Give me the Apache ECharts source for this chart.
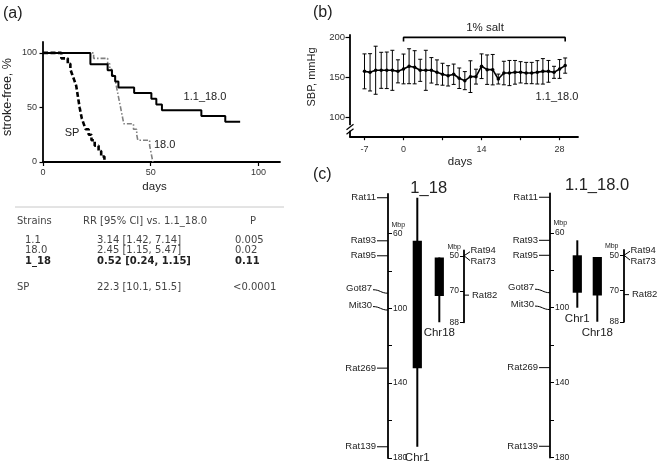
<!DOCTYPE html>
<html><head><meta charset="utf-8">
<script src="https://cdn.jsdelivr.net/npm/echarts@6/dist/echarts.min.js"></script>
<style>html,body{margin:0;padding:0;background:#fff}#c{width:660px;height:465px}</style>
</head><body><div id="c"></div>
<script>
// ================= DATA =================
// (a) Kaplan-Meier stroke-free survival: [day, % stroke-free after event]
const kmXTicks = [0, 50, 100];
const kmYTicks = [0, 50, 100];
const km_1_1_18_0 = [[0,100],[22,89.5],[30,84.2],[32,78.9],[33.5,73.7],[35,68.4],[42.3,63.2],[50.3,57.9],[52.6,52.6],[55.2,47.4],[73.5,42.1],[84.6,36.8],[91.5,36.8]];
const km_SP = [[0,100],[8.5,95],[11.5,90],[12.7,85],[13.6,80],[14.5,75],[15.4,70],[15.8,65],[16.2,60],[16.6,55],[17,50],[17.5,45],[18,40],[18.9,35],[19.8,30],[21.2,25],[22.5,20],[24,15],[25.8,10],[27,5],[28.5,0]];
const km_18_0 = [[0,100],[23.5,95],[30,90],[31,85],[32,80],[33.5,75],[34,70],[34.5,65],[35,60],[35.5,55],[36,50],[36.5,45],[37,40],[37.5,35],[42,30],[43.5,25],[44,20],[49.5,15],[50,10],[50.5,5],[51,0]];

// (a) table
const tableHeader = ['Strains', 'RR [95% CI] vs. 1.1_18.0', 'P'];
const tableStrains = ['1.1', '18.0', '1_18', 'SP'];
const tableRR = ['3.14 [1.42, 7.14]', '2.45 [1.15, 5.47]', '0.52 [0.24, 1.15]', '22.3 [10.1, 51.5]'];
const tableP = ['0.005', '0.02', '0.11', '<0.0001'];

// (b) SBP
const sbpDays = [-7,-6,-5,-4,-3,-2,-1,0,1,2,3,4,5,6,7,8,9,10,11,12,13,14,15,16,17,18,19,20,21,22,23,24,25,26,27,28,29];
const sbpMean = [157.6,156.4,159,158.9,158.9,158.9,157.6,160.6,164,162.7,158.9,158.9,158.9,156.4,154,152,154,149,146,151,151,164,159.7,159.7,148,155.5,155.5,156.4,156.4,155.5,155.5,156.4,157.6,157.6,156.4,160.6,164.8];
const sbpSD = [21.8,23.3,30,22.5,22.8,25,14.4,18.6,21.8,20.7,13.8,25,15.9,15.5,13.7,12.7,12.7,12.8,11.3,19.8,9.3,15.4,18.4,19,6.2,14.7,15.7,14.8,13.3,13.3,13.3,14.6,15.9,13.6,7.5,11.75,9.5];
const sbpXTicks = [-7, 0, 7, 14, 21, 28];
const sbpXLabels = [-7, 0, 14, 28];
const sbpYTicks = [100, 150, 200];
const saltBracket = [[0,195],[0,200],[29,200],[29,195]];

// (c) congenic maps (Mbp)
const chr1Markers = [['Rat11',41],['Rat93',64],['Rat95',72],['Got87',92],['Mit30',101],['Rat269',132],['Rat139',174]];
const chr18Markers = [['Rat94',50],['Rat73',50],['Rat82',72.5]];
const chr1TickValues = [60,80,100,120,140,160,180];
const chr1LabelValues = [60,100,140,180];
const chr18TickValues = [50,70,88];
// [thinStart, thinEnd, thickStart, thickEnd]
const seg_1_18_chr1 = [41,174,64,132];
const seg_1_18_chr18 = [51,88,51,73];
const seg_11_180_chr1 = [64,100,72,92];
const seg_11_180_chr18 = [51,88,51,73];

// ================= LAYOUT / STYLE =================
const F = '"Liberation Sans", Arial, sans-serif';
const FT = '"DejaVu Sans", "Noto Sans", sans-serif';
const INK = '#222';
const G = {
  km:   {left:43, top:42, width:237, height:120},
  sbp:  {left:350, top:35, width:228, height:101.7},
  c1L:  {left:388, top:194, width:58.6, height:264},
  c18L: {left:414.6, top:250.5, width:49.4, height:71.75},
  c1R:  {left:550, top:193.5, width:54.6, height:264},
  c18R: {left:570.6, top:250, width:53.4, height:71.75}
};
const labelShift = {Got87:-5, Mit30:-5, Rat94:-5, Rat73:6};

const chart = echarts.init(document.getElementById('c'), null, {renderer:'canvas'});

function chrAxis(idx, min, max, pos, ticks, labels) {
  return {gridIndex: idx, type:'value', inverse:true, min:min, max:max, position:pos,
    axisLine:{show:true, onZero:false, lineStyle:{color:'#000', width:1.8}},
    axisTick:{show:true, inside:true, length:4, customValues:ticks, lineStyle:{color:'#000', width:1}},
    axisLabel:{inside:true, customValues:labels, fontSize:8.5, fontFamily:F, color:INK, margin:5},
    splitLine:{show:false}};
}
function hiddenCat(idx) { return {gridIndex: idx, type:'category', data:['c'], show:false}; }

function markerSeries(xi, yi, markers, side) {
  return {type:'custom', xAxisIndex:xi, yAxisIndex:yi, clip:false,
    data: markers.map(m => [0, m[1]]),
    encode:{x:0, y:1},
    renderItem: function(params, api) {
      const cs = params.coordSys;
      const name = markers[params.dataIndex][0];
      const y = api.coord([0, api.value(1)])[1];
      const sh = labelShift[name] || 0;
      const st = {stroke:'#000', lineWidth:1, fill:null};
      const ch = [];
      if (side === 'left') {
        const ax = cs.x;
        if (sh) {
          ch.push({type:'bezierCurve', shape:{x1:ax-15, y1:y+sh+1.5, cpx1:ax-8, cpy1:y+sh+1.5, cpx2:ax-7, cpy2:y, x2:ax, y2:y}, style:st});
          ch.push({type:'text', x:ax-16, y:y+sh, style:{text:name, fontSize:9.5, fontFamily:F, fill:INK, align:'right', verticalAlign:'middle'}});
        } else {
          ch.push({type:'line', shape:{x1:ax-11, y1:y, x2:ax, y2:y}, style:st});
          ch.push({type:'text', x:ax-12, y:y, style:{text:name, fontSize:9.5, fontFamily:F, fill:INK, align:'right', verticalAlign:'middle'}});
        }
      } else {
        const ax = cs.x + cs.width;
        if (sh) {
          ch.push({type:'line', shape:{x1:ax, y1:y, x2:ax+6, y2:y+sh*0.8}, style:st});
          ch.push({type:'text', x:ax+6.5, y:y+sh, style:{text:name, fontSize:9.5, fontFamily:F, fill:INK, align:'left', verticalAlign:'middle'}});
        } else {
          ch.push({type:'line', shape:{x1:ax, y1:y, x2:ax+5, y2:y}, style:st});
          ch.push({type:'text', x:ax+8, y:y, style:{text:name, fontSize:9.5, fontFamily:F, fill:INK, align:'left', verticalAlign:'middle'}});
        }
      }
      return {type:'group', children:ch};
    }};
}
function segmentSeries(xi, yi, seg, label) {
  return {type:'custom', xAxisIndex:xi, yAxisIndex:yi, clip:false,
    data: [[0].concat(seg)],
    encode:{x:0, y:[1,2]},
    renderItem: function(params, api) {
      const x = api.coord([0, api.value(1)])[0];
      const y1 = api.coord([0, api.value(1)])[1], y2 = api.coord([0, api.value(2)])[1];
      const t1 = api.coord([0, api.value(3)])[1], t2 = api.coord([0, api.value(4)])[1];
      return {type:'group', children:[
        {type:'line', shape:{x1:x, y1:y1, x2:x, y2:y2}, style:{stroke:'#000', lineWidth:2}},
        {type:'rect', shape:{x:x-4.6, y:t1, width:9.2, height:t2-t1}, style:{fill:'#000'}},
        {type:'text', x:x, y:y2+5, style:{text:label, fontSize:11.5, fontFamily:F, fill:INK, align:'center', verticalAlign:'top'}}
      ]};
    }};
}

// ---- graphic (texts, table, break) ----
const gfx = [];
function txt(x, y, text, o) {
  o = o || {};
  gfx.push({type:'text', x:x, y:y, rotation:o.rot||0, z:100,
    style:{text:text, fontSize:o.size||11, fontFamily:o.font||F, fill:o.color||INK, fontWeight:o.weight||'normal',
      align:o.align||'left', verticalAlign:'middle'}});
}
txt(3, 14, '(a)', {size:16});
txt(313, 13, '(b)', {size:16});
txt(313, 175, '(c)', {size:16});
// panel a annotations
txt(8, 97, 'stroke-free, %', {rot:Math.PI/2, align:'center', size:12.5});
txt(205, 97, '1.1_18.0', {align:'center'});
txt(72, 133, 'SP', {align:'center'});
txt(154, 145, '18.0');
// panel b annotations
txt(311.5, 77, 'SBP, mmHg', {rot:Math.PI/2, align:'center'});
txt(485, 28, '1% salt', {align:'center', size:11.5});
txt(557, 97, '1.1_18.0', {align:'center'});
// axis break on SBP y axis
(function(){
  const ax = G.sbp.left, b = G.sbp.top + G.sbp.height;
  gfx.push({type:'rect', z:100, shape:{x:ax-2, y:b-11.5, width:4, height:5.5}, style:{fill:'#fff'}});
  gfx.push({type:'line', z:101, shape:{x1:ax-3.5, y1:b-7, x2:ax+3.5, y2:b-12.5}, style:{stroke:'#000', lineWidth:1.2}});
  gfx.push({type:'line', z:101, shape:{x1:ax-3.5, y1:b-2.5, x2:ax+3.5, y2:b-8}, style:{stroke:'#000', lineWidth:1.2}});
})();
// table
gfx.push({type:'line', z:100, shape:{x1:15, y1:207, x2:284, y2:207}, style:{stroke:'#c8c8c8', lineWidth:1}});
txt(17, 221.7, tableHeader[0], {font:FT, color:'#444', size:10});
txt(83, 221.7, tableHeader[1], {font:FT, color:'#444', size:10});
txt(253, 221.7, tableHeader[2], {font:FT, color:'#444', align:'center', size:10});
const rowY = [240.7, 250.9, 261, 287.5];
const strainX = [25, 25, 25, 17];
const pX = [235, 235, 235, 233];
tableStrains.forEach((s, i) => {
  const bold = s === '1_18';
  const o = {font:FT, size:10, color: bold ? '#222' : '#444', weight: bold ? 'bold' : 'normal'};
  txt(strainX[i], rowY[i], s, o);
  txt(97, rowY[i], tableRR[i], o);
  txt(pX[i], rowY[i], tableP[i], o);
});
// panel c titles and Mbp labels
txt(428.7, 188, '1_18', {align:'center', size:16.5});
txt(597, 185, '1.1_18.0', {align:'center', size:16.5});
txt(G.c1L.left + 3.5, G.c1L.top + 31, 'Mbp', {size:7});
txt(G.c1R.left + 3.5, G.c1R.top + 30, 'Mbp', {size:7});
txt(G.c18L.left + G.c18L.width - 3, G.c18L.top - 3.5, 'Mbp', {size:7, align:'right'});
txt(G.c18R.left + G.c18R.width - 5.5, G.c18R.top - 4, 'Mbp', {size:7, align:'right'});

const option = {
  animation:false,
  backgroundColor:'#fff',
  grid: [G.km, G.sbp, G.c1L, G.c18L, G.c1R, G.c18R].map(g => Object.assign({containLabel:false}, g)),
  xAxis: [
    {gridIndex:0, type:'value', min:0, max:110,
     name:'days', nameLocation:'middle', nameGap:19, nameTextStyle:{fontSize:11.5, fontFamily:F, color:INK, padding:[0,14,0,0]},
     axisLine:{onZero:false, lineStyle:{color:'#000', width:1.8}},
     axisTick:{show:true, length:4, customValues:kmXTicks, lineStyle:{color:'#000', width:1.2}},
     axisLabel:{customValues:kmXTicks, fontSize:9, fontFamily:F, color:'#333', margin:6},
     splitLine:{show:false}},
    {gridIndex:1, type:'value', min:-9.6, max:31.3,
     name:'days', nameLocation:'middle', nameGap:19, nameTextStyle:{fontSize:11.5, fontFamily:F, color:INK, padding:[0,8,0,0]},
     axisLine:{onZero:false, lineStyle:{color:'#000', width:1.8}},
     axisTick:{show:true, length:3.5, customValues:sbpXTicks, lineStyle:{color:'#000', width:1.2}},
     axisLabel:{customValues:sbpXLabels, fontSize:9, fontFamily:F, color:'#333', margin:8},
     splitLine:{show:false}},
    hiddenCat(2), hiddenCat(3), hiddenCat(4), hiddenCat(5)
  ],
  yAxis: [
    {gridIndex:0, type:'value', min:0, max:110,
     axisLine:{show:true, onZero:false, lineStyle:{color:'#000', width:1.8}},
     axisTick:{show:true, length:3.5, customValues:kmYTicks, lineStyle:{color:'#000', width:1.2}},
     axisLabel:{customValues:kmYTicks, fontSize:9, fontFamily:F, color:'#333', margin:6},
     splitLine:{show:false}},
    {gridIndex:1, type:'value', min:76, max:203,
     axisLine:{show:true, onZero:false, lineStyle:{color:'#000', width:1.8}},
     axisTick:{show:true, length:4.5, customValues:sbpYTicks, lineStyle:{color:'#000', width:1.2}},
     axisLabel:{customValues:sbpYTicks, fontSize:9.5, fontFamily:F, color:'#333', margin:5},
     splitLine:{show:false}},
    chrAxis(2, 39, 180, 'left', chr1TickValues, chr1LabelValues),
    chrAxis(3, 47, 88, 'right', chr18TickValues, chr18TickValues),
    chrAxis(4, 39, 180, 'left', chr1TickValues, chr1LabelValues),
    chrAxis(5, 47, 88, 'right', chr18TickValues, chr18TickValues)
  ],
  series: [
    {type:'line', xAxisIndex:0, yAxisIndex:0, step:'end', data:km_18_0, showSymbol:false, symbol:'none', z:2,
     lineStyle:{color:'#808080', width:1.6, type:[5,2,1.5,2]}},
    {type:'line', xAxisIndex:0, yAxisIndex:0, step:'end', data:km_SP, showSymbol:false, symbol:'none', z:3,
     lineStyle:{color:'#000', width:2.6, type:[5,2.5]}},
    {type:'line', xAxisIndex:0, yAxisIndex:0, step:'end', data:km_1_1_18_0, showSymbol:false, symbol:'none', z:4,
     lineStyle:{color:'#000', width:2}},
    {type:'custom', xAxisIndex:1, yAxisIndex:1,
     data: sbpDays.map((d, i) => [d, sbpMean[i], sbpSD[i]]),
     encode:{x:0, y:1},
     renderItem: function(params, api) {
       const x = api.value(0), m = api.value(1), s = api.value(2);
       const top = api.coord([x, m + s]), bot = api.coord([x, m - s]);
       const w = 2, st = {stroke:'#000', lineWidth:1};
       return {type:'group', children:[
         {type:'line', shape:{x1:top[0], y1:top[1], x2:bot[0], y2:bot[1]}, style:st},
         {type:'line', shape:{x1:top[0]-w, y1:top[1], x2:top[0]+w, y2:top[1]}, style:st},
         {type:'line', shape:{x1:bot[0]-w, y1:bot[1], x2:bot[0]+w, y2:bot[1]}, style:st}
       ]};
     }},
    {type:'line', xAxisIndex:1, yAxisIndex:1, data: sbpDays.map((d, i) => [d, sbpMean[i]]),
     symbol:'circle', symbolSize:3.5, itemStyle:{color:'#000'}, lineStyle:{color:'#000', width:1.6}, z:3},
    {type:'line', xAxisIndex:1, yAxisIndex:1, data: saltBracket, symbol:'none', clip:false,
     lineStyle:{color:'#000', width:1.6}},
    markerSeries(2, 2, chr1Markers, 'left'),
    segmentSeries(2, 2, seg_1_18_chr1, 'Chr1'),
    markerSeries(3, 3, chr18Markers, 'right'),
    segmentSeries(3, 3, seg_1_18_chr18, 'Chr18'),
    markerSeries(4, 4, chr1Markers, 'left'),
    segmentSeries(4, 4, seg_11_180_chr1, 'Chr1'),
    markerSeries(5, 5, chr18Markers, 'right'),
    segmentSeries(5, 5, seg_11_180_chr18, 'Chr18')
  ],
  graphic: {elements: gfx}
};
chart.setOption(option);
</script></body></html>
